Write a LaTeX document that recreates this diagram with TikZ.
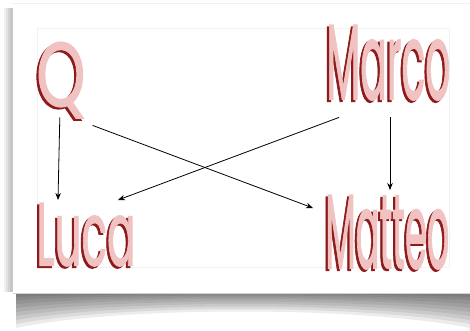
\documentclass[tikz,border=0pt]{standalone}
\usepackage{fontspec}
\setmainfont{Poppins}
\newfontfamily\wafont{Poppins}[FakeBold=1.6]
\usetikzlibrary{arrows.meta}
\definecolor{wadark}{HTML}{8E1A1A}
\definecolor{wapink}{HTML}{F0C2C2}
\newcommand{\wart}[3]{\leavevmode\rlap{\textcolor{wadark}{\resizebox*{#1}{#2}{#3}}}\kern2.2pt\raisebox{2pt}{\textcolor{wapink}{\resizebox*{#1}{#2}{#3}}}}
\tikzset{
  walabel/.style={inner sep=0pt, anchor=north west, font=\wafont},
  arr/.style={-{Stealth[length=7pt,width=5.5pt]}, line width=0.8pt, black},
}
\begin{document}
\begin{tikzpicture}[x=1pt,y=1pt]
\useasboundingbox (0,0) rectangle (470,-331);
\fill[white] (0,0) rectangle (470,-331);
% card shadow below (curled)
\foreach \d/\c in {36/14, 32/12, 28/10, 24/8, 20/6, 16/4, 12/3, 8/2, 5/1} {
  \fill[black, opacity=0.075] (16,-292) -- (470,-292) -- (470,-292-\d)
     .. controls (360,-292-\c) and (120,-292-\c) .. (16,-292-\d) -- cycle;
}
% left shadow of card
\foreach \w in {9,7,5,3} {
  \fill[black, opacity=0.06] (13-\w,-8) rectangle (13,-292);
}
% card
\fill[white] (13,-3) rectangle (472,-293);
\draw[gray!12, line width=0.6pt] (13,-3) -- (472,-3);
\draw[gray!35, line width=0.6pt] (13,-293) -- (472,-293);
% inner frame
\draw[gray!10, line width=0.5pt] (37,-28) rectangle (449,-267);
% labels
\node[walabel] (Q) at (34,-42) {\wart{49pt}{76pt}{Q}};
\node[walabel] (Marco) at (324,-25) {\wart{124pt}{75pt}{Marco}};
\node[walabel] (Luca) at (34,-203) {\wart{99pt}{63pt}{Luca}};
\node[walabel] (Matteo) at (323,-195) {\wart{124pt}{74pt}{Matteo}};
% arrows
\draw[arr] ([shift={(0,3)}]Q.south) -- ([shift={(24,3)}]Luca.north west);
\draw[arr] ([shift={(7,-5)}]Q.south east) -- ([shift={(-10,-13)}]Matteo.north west);
\draw[arr] ([shift={(15,-15)}]Marco.south west) -- ([shift={(84,3)}]Luca.north west);
\draw[arr] ([shift={(66,-15)}]Marco.south west) -- ([shift={(67,5)}]Matteo.north west);
\end{tikzpicture}
\end{document}
